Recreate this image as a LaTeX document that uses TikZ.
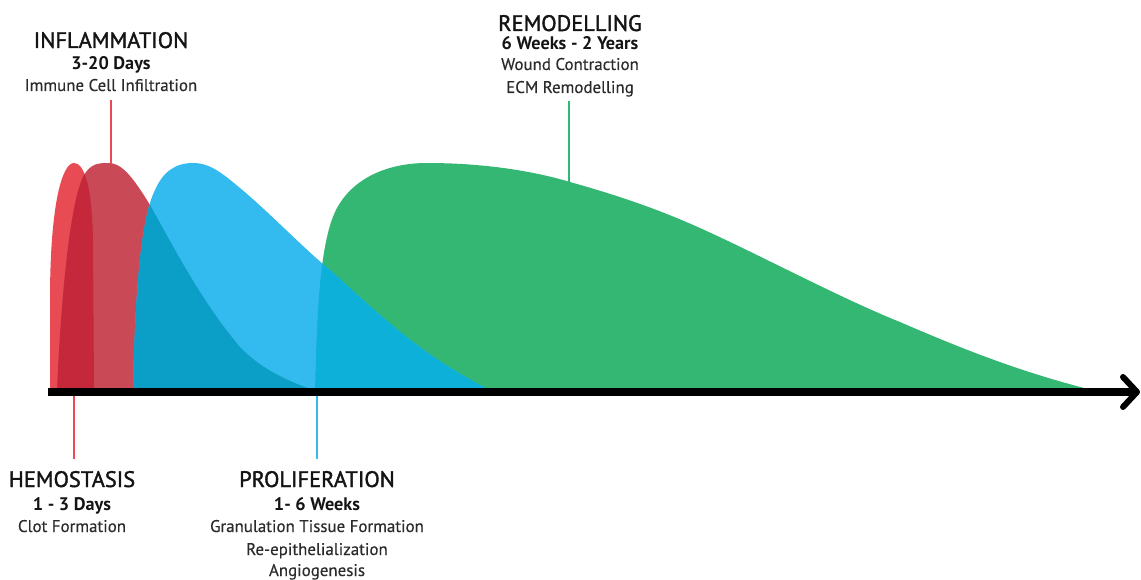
\documentclass[tikz,border=0pt]{standalone}
\usepackage{fontspec}
\setmainfont{PT Sans}
\newfontfamily\headfont{PT Sans}[FakeBold=1.6]
\newfontfamily\notefont{PT Sans}[FakeBold=0.4]
\definecolor{hemored}{HTML}{E84B53}
\definecolor{inflred}{HTML}{C94A56}
\definecolor{deepred}{HTML}{C4283A}
\definecolor{prolblue}{HTML}{33BBEF}
\definecolor{deepblue}{HTML}{0B9FC7}
\definecolor{tealblue}{HTML}{0CB0D8}
\definecolor{remgreen}{HTML}{33B772}
\definecolor{inkblack}{HTML}{141414}
\definecolor{inkgray}{HTML}{2B2B2B}

% phase outlines (x to the right, y downward, axis top at y = 390)
\def\hemopath{(50,390) -- (50,300) .. controls (50,205) and (62,163) .. (74,163)
  .. controls (84,163) and (92,185) .. (93,240) -- (94,390) -- cycle}
\def\inflpath{(57,390) .. controls (62,280) and (72,190) .. (86,172)
  .. controls (92,164) and (98,163) .. (108,163)
  .. controls (120,163) and (130,172) .. (150,205)
  .. controls (170,240) and (200,300) .. (240,347)
  .. controls (260,368) and (285,380) .. (313,390) -- cycle}
\def\prolpath{(133,390) .. controls (135,300) and (140,220) .. (155,190)
  .. controls (163,172) and (175,163) .. (193,163)
  .. controls (210,163) and (222,173) .. (240,188)
  .. controls (270,213) and (300,245) .. (330,270)
  .. controls (380,315) and (420,355) .. (490,390) -- cycle}
\def\rempath{(315,390) .. controls (317,310) and (320,245) .. (335,212)
  .. controls (350,180) and (385,163) .. (427,163)
  .. controls (480,163) and (530,170) .. (570,182)
  .. controls (620,196) and (660,210) .. (700,228)
  .. controls (760,255) and (840,298) .. (900,322)
  .. controls (960,348) and (1020,372) .. (1092,390) -- cycle}

\begin{document}
\begin{tikzpicture}[x=1pt,y=-1pt,
  phasetitle/.style={anchor=base,inner sep=0pt,text=inkblack,font=\headfont\fontsize{22.4}{25}\selectfont},
  phasetime/.style={anchor=base,inner sep=0pt,text=inkblack,font=\fontsize{18.2}{21}\selectfont\bfseries},
  phasenote/.style={anchor=base,inner sep=0pt,text=inkgray,font=\notefont\fontsize{16.9}{20}\selectfont},
  marker/.style={line width=2.6pt},
  axisline/.style={line width=8pt,black},
  chevron/.style={line width=6pt,black,line cap=round,line join=round}]
\useasboundingbox (0,0) rectangle (1141,580);

% curves, back to front
\fill[remgreen] \rempath;
\fill[hemored] \hemopath;
\fill[inflred] \inflpath;
\begin{scope}
  \clip \hemopath;
  \fill[deepred] \inflpath;
\end{scope}
\fill[prolblue] \prolpath;
\begin{scope}
  \clip \prolpath;
  \fill[tealblue] \rempath;
  \fill[deepblue] \inflpath;
\end{scope}

% time axis
\coordinate (axis-start) at (48,392);
\coordinate (axis-end) at (1134,392);
\coordinate (tip-up) at (1123,377);
\coordinate (tip) at (1137,392);
\coordinate (tip-down) at (1123,407);
\draw[axisline] (axis-start) -- (axis-end);
\draw[chevron] (tip-up) -- (tip) -- (tip-down);

% INFLAMMATION
\node[phasetitle] (infl-title) at (111,48) {INFLAMMATION};
\node[phasetime] (infl-time) at (111,70) {3-20 Days};
\node[phasenote] (infl-note) at (111,91) {Immune Cell Infiltration};
\coordinate (infl-top) at (111,100);
\coordinate (infl-peak) at (111,164);
\draw[marker,hemored] (infl-top) -- (infl-peak);

% REMODELLING
\node[phasetitle] (rem-title) at (570,31) {REMODELLING};
\node[phasetime] (rem-time) at (570,50) {6 Weeks - 2 Years};
\node[phasenote] (rem-note1) at (570,70) {Wound Contraction};
\node[phasenote] (rem-note2) at (570,93) {ECM Remodelling};
\coordinate (rem-top) at (569,101);
\coordinate (rem-peak) at (569,183);
\draw[marker,remgreen] (rem-top) -- (rem-peak);

% HEMOSTASIS
\coordinate (hemo-axis) at (74,396);
\coordinate (hemo-end) at (74,459);
\draw[marker,hemored] (hemo-axis) -- (hemo-end);
\node[phasetitle] (hemo-title) at (72,487) {HEMOSTASIS};
\node[phasetime] (hemo-time) at (72,510) {1 - 3 Days};
\node[phasenote] (hemo-note) at (72,532) {Clot Formation};

% PROLIFERATION
\coordinate (prol-axis) at (317,396);
\coordinate (prol-end) at (317,459);
\draw[marker,prolblue] (prol-axis) -- (prol-end);
\node[phasetitle] (prol-title) at (317,487) {PROLIFERATION};
\node[phasetime] (prol-time) at (317,510) {1- 6 Weeks};
\node[phasenote] (prol-note1) at (317,532) {Granulation Tissue Formation};
\node[phasenote] (prol-note2) at (317,555) {Re-epithelialization};
\node[phasenote] (prol-note3) at (317,576) {Angiogenesis};
\end{tikzpicture}
\end{document}
